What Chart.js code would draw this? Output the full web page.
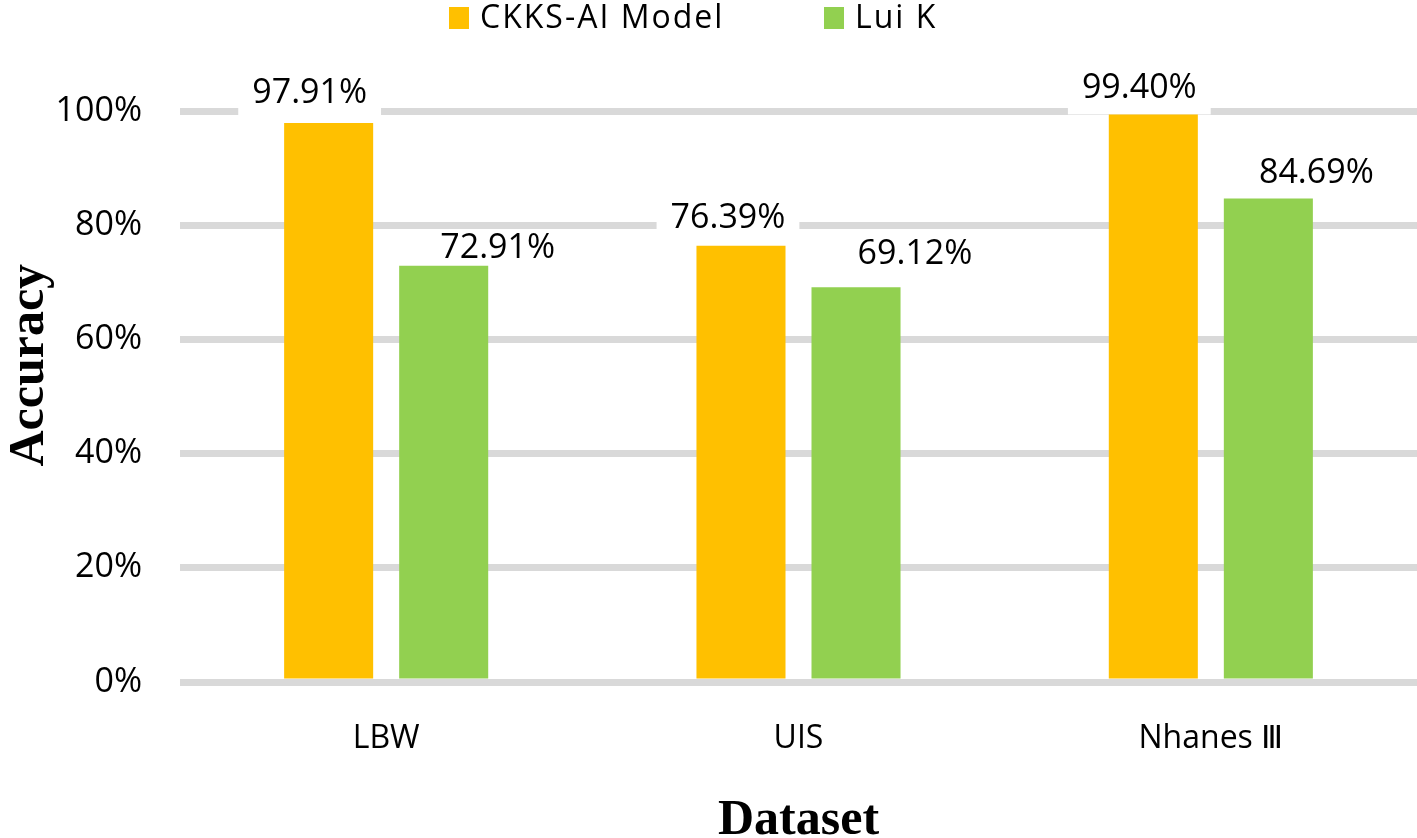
<!DOCTYPE html>
<html>
<head>
<meta charset="utf-8">
<script src="https://cdn.jsdelivr.net/npm/chart.js@4"></script>
<style>
  html, body { margin: 0; padding: 0; background: #fff; }
  #wrap { width: 1417px; height: 838px; }
</style>
</head>
<body>
<div id="wrap"><canvas id="grafico" width="1417" height="838"></canvas></div>
<script>
const categorias = ['LBW', 'UIS', 'Nhanes \u2162'];
const serieNombres = ['CKKS-AI Model', 'Lui K'];
const ckksValores = [97.91, 76.39, 99.40];
const luiValores = [72.91, 69.12, 84.69];
const ticksY = [0, 20, 40, 60, 80, 100];

const colores = ['#FFC000', '#92D050'];
// posición manual de las etiquetas respecto a la barra (como en el original)
const desplazX = [[-19, -13, -14], [54, 59, 48]];
const separacionY = [[20, 18, 16], [8, 23, 15]];

const fuente = '"Open Sans", "Liberation Sans", sans-serif';
const fuenteTitulo = '"Liberation Serif", "Times New Roman", serif';

function recorrerEtiquetas(chart, fn) {
  chart.data.datasets.forEach((ds, i) => {
    chart.getDatasetMeta(i).data.forEach((bar, j) => {
      const txt = ds.data[j].toFixed(2) + '%';
      fn(txt, bar, bar.x + desplazX[i][j], bar.y - separacionY[i][j]);
    });
  });
}

const etiquetasPlugin = {
  id: 'etiquetas',
  beforeDatasetsDraw(chart) {
    const ctx = chart.ctx;
    ctx.save();
    ctx.font = '34px ' + fuente;
    ctx.fillStyle = '#fff';
    recorrerEtiquetas(chart, (txt, bar, x, base) => {
      const w = ctx.measureText(txt).width;
      ctx.fillRect(x - w / 2 - 14, base - 28, w + 28, bar.y - base + 28);
    });
    ctx.restore();
  },
  afterDatasetsDraw(chart) {
    const ctx = chart.ctx;
    ctx.save();
    ctx.font = '34px ' + fuente;
    ctx.fillStyle = '#000';
    ctx.textAlign = 'center';
    ctx.textBaseline = 'alphabetic';
    recorrerEtiquetas(chart, (txt, bar, x, base) => {
      ctx.fillText(txt, x, base);
    });
    ctx.restore();
  },
  afterDraw(chart) {
    // leyenda superior
    const ctx = chart.ctx;
    ctx.save();
    ctx.font = '32px ' + fuente;
    ctx.letterSpacing = '2px';
    ctx.textBaseline = 'middle';
    const posiciones = [449, 824];
    chart.data.datasets.forEach((ds, i) => {
      const x = posiciones[i];
      ctx.fillStyle = ds.backgroundColor;
      ctx.fillRect(x, 7, 20, 22);
      ctx.fillStyle = '#000';
      ctx.fillText(ds.label, x + 31, 19);
    });
    ctx.restore();
  }
};

new Chart(document.getElementById('grafico'), {
  type: 'bar',
  data: {
    labels: categorias,
    datasets: [
      { label: serieNombres[0], data: ckksValores, backgroundColor: colores[0],
        categoryPercentage: 0.558, barPercentage: 0.774 },
      { label: serieNombres[1], data: luiValores, backgroundColor: colores[1],
        categoryPercentage: 0.558, barPercentage: 0.774 }
    ]
  },
  options: {
    responsive: false,
    animation: false,
    layout: { padding: { top: 111, right: 0, left: 0, bottom: 0 } },
    plugins: {
      legend: { display: false },
      tooltip: { enabled: false }
    },
    scales: {
      x: {
        grid: { display: false, drawTicks: false },
        border: { display: false },
        ticks: { color: '#000', font: { family: fuente, size: 32 }, padding: 38 },
        title: {
          display: true, text: 'Dataset', color: '#000',
          font: { family: fuenteTitulo, size: 50, weight: 'bold' },
          padding: { top: 0, bottom: -13 }
        },
        afterFit(scale) { scale.height = 156; }
      },
      y: {
        min: 0, max: 100,
        afterBuildTicks(scale) { scale.ticks = ticksY.map(v => ({ value: v })); },
        grid: { color: '#d9d9d9', lineWidth: 7, drawTicks: false },
        border: { display: false },
        ticks: {
          color: '#000', font: { family: fuente, size: 34 }, padding: 38,
          callback: v => v + '%'
        },
        title: {
          display: true, text: '     Accuracy', color: '#000',
          font: { family: fuenteTitulo, size: 50, weight: 'bold' },
          padding: { top: 0, bottom: 0 }
        },
        afterFit(scale) { scale.width = 180; }
      }
    }
  },
  plugins: [etiquetasPlugin]
});
</script>
</body>
</html>
